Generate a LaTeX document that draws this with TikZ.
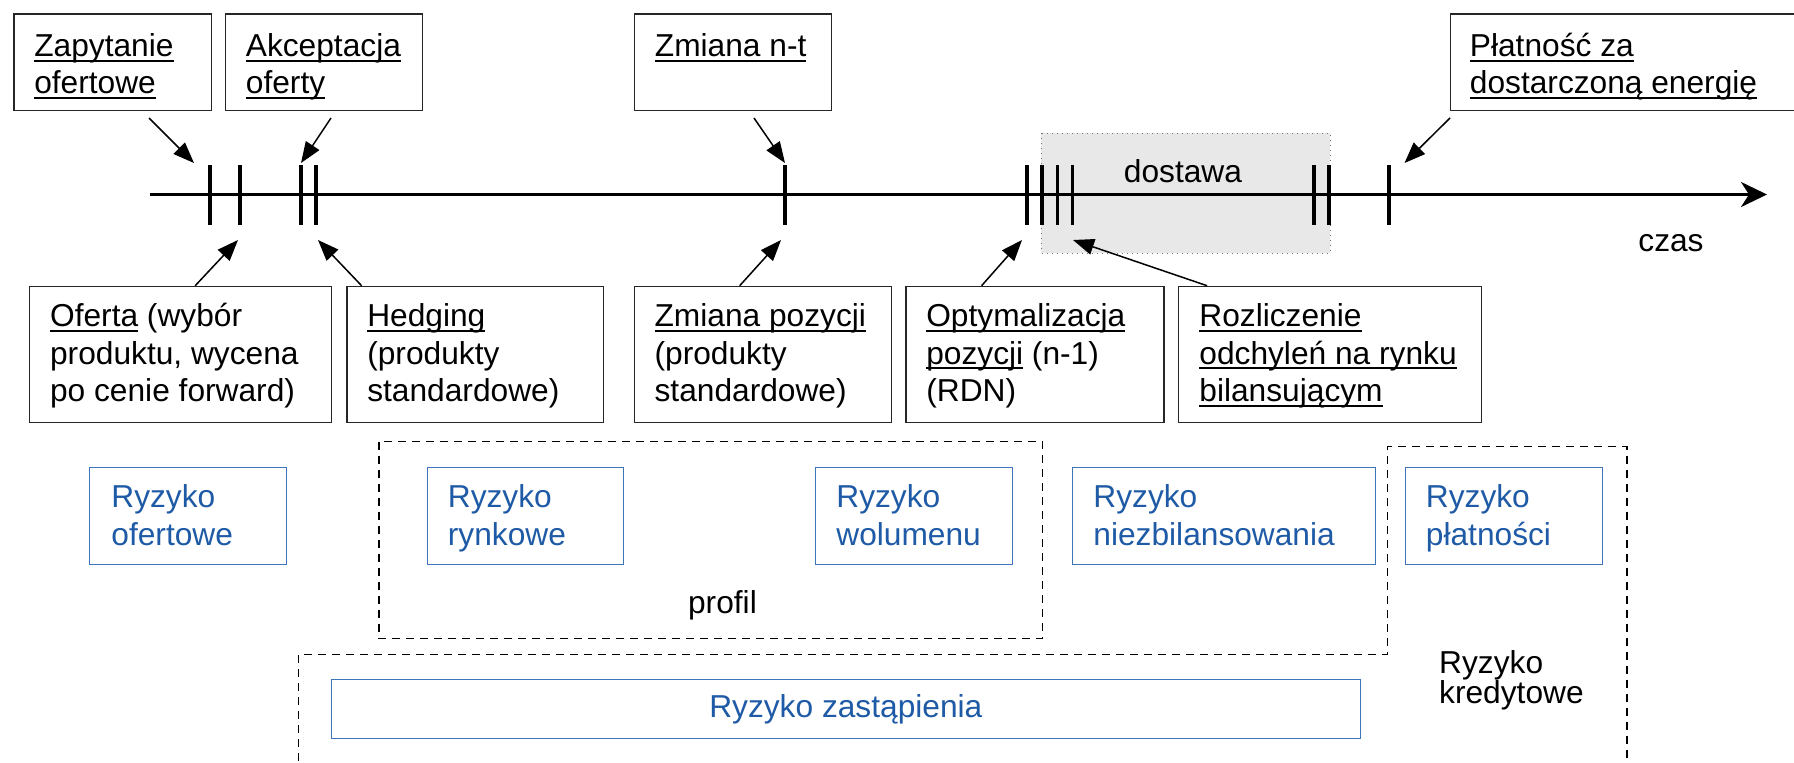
\documentclass[tikz,border=0pt]{standalone}
\usepackage{fontspec}
\setmainfont{Liberation Sans}
\usetikzlibrary{arrows.meta,calc}
\definecolor{rblue}{RGB}{30,90,165}
\definecolor{rblueline}{RGB}{60,115,185}
\newcommand\myul[1]{\setbox0\hbox{#1}\rlap{\rule[-2.6pt]{\wd0}{0.95pt}}\box0\relax}
\newcommand\mlines[1]{\vtop{\halign{##\hfil\cr#1\crcr}}}
\tikzset{
  evbox/.style={draw=black!85, line width=0.6pt, inner sep=0pt, anchor=north west, minimum height=#1},
  evbox/.default=48.35pt,
  rbox/.style={draw=rblueline, line width=0.6pt, inner sep=0pt, anchor=north west, minimum height=48.65pt},
  txt/.style={inner sep=0pt, anchor=base west, font=\fontsize{15.85}{18.7}\selectfont},
  btxt/.style={txt, text=rblue},
  conn/.style={line width=0.75pt, -{Triangle[length=10.5pt,width=8pt]}},
  tickmark/.style={line width=1.65pt},
  dashedbox/.style={line width=0.75pt, dash pattern=on 4pt off 3pt},
}
\begin{document}
\begin{tikzpicture}[x=0.5pt,y=-0.5pt]
\useasboundingbox (0,0) rectangle (1794,762);

% delivery period
\draw[fill=black!9, draw=black!55, line width=0.5pt, dotted] (1041.3,133.3) rectangle (1330,253);
\node[txt] (dost) at (1123.5,182) {dostawa};

% time axis
\coordinate (axL) at (150,194.5);
\coordinate (axR) at (1767,194.5);
\draw[line width=1.5pt, -{Stealth[length=13pt,width=12.5pt,inset=4pt]}] (axL) -- (axR);
\foreach \t in {210,240,301,316,785,1027,1042,1057.5,1072.6,1314,1329,1389}
  \draw[tickmark] (\t,165) -- (\t,225);
\node[txt] (czas) at (1638,251) {czas};

% top event boxes
\node[evbox, minimum width=98.55pt] (zap) at (13.4,13.3) {};
\node[txt] (zapt) at ($(zap.north west)+(20.5,43)$) {\mlines{\myul{Zapytanie}\cr\myul{ofertowe}}};
\node[evbox, minimum width=98.5pt] (akc) at (225,13.3) {};
\node[txt] (akct) at ($(akc.north west)+(20.5,43)$) {\mlines{\myul{Akceptacja}\cr\myul{oferty}}};
\node[evbox, minimum width=98.3pt] (zmnt) at (634,13.3) {};
\node[txt] (zmntt) at ($(zmnt.north west)+(20.5,43)$) {\myul{Zmiana n-t}};
\node[evbox, minimum width=176pt] (plat) at (1450,13.3) {};
\node[txt] (platt) at ($(plat.north west)+(19.5,43)$) {\mlines{\myul{Płatność za}\cr\myul{dostarczoną energię}}};

% bottom event boxes
\node[evbox=68pt, minimum width=151.15pt] (ofe) at (28.7,285.7) {};
\node[txt] (ofet) at ($(ofe.north west)+(21,41)$) {\mlines{\myul{Oferta} (wybór\cr produktu, wycena\cr po cenie forward)}};
\node[evbox=68pt, minimum width=128.3pt] (hed) at (346.4,285.7) {};
\node[txt] (hedt) at ($(hed.north west)+(20.5,41)$) {\mlines{\myul{Hedging}\cr (produkty\cr standardowe)}};
\node[evbox=68pt, minimum width=128.65pt] (zpoz) at (633.7,285.7) {};
\node[txt] (zpozt) at ($(zpoz.north west)+(20.5,41)$) {\mlines{\myul{Zmiana pozycji}\cr (produkty\cr standardowe)}};
\node[evbox=68pt, minimum width=128.95pt] (opt) at (905.4,285.7) {};
\node[txt] (optt) at ($(opt.north west)+(20.5,41)$) {\mlines{\myul{Optymalizacja}\cr\myul{pozycji} (n-1)\cr (RDN)}};
\node[evbox=68pt, minimum width=151.5pt] (roz) at (1178,285.7) {};
\node[txt] (rozt) at ($(roz.north west)+(21,41)$) {\mlines{\myul{Rozliczenie}\cr\myul{odchyleń na rynku}\cr\myul{bilansującym}}};

% connectors
\coordinate (zapA) at (149,118);   \coordinate (zapB) at (194,163);
\coordinate (akcA) at (331,118);   \coordinate (akcB) at (301,163);
\coordinate (zmntA) at (754,118);  \coordinate (zmntB) at (785,163);
\coordinate (platA) at (1450,118); \coordinate (platB) at (1404.5,163);
\coordinate (ofeB) at (238,240);
\coordinate (hedB) at (318,240);
\coordinate (zpozB) at (781,240);
\coordinate (optB) at (1022,240);
\coordinate (rozB) at (1073,240);
\draw[conn] (zapA) -- (zapB);
\draw[conn] (akcA) -- (akcB);
\draw[conn] (zmntA) -- (zmntB);
\draw[conn] (platA) -- (platB);
\draw[conn] ($(ofe.north west)+(166.5,0)$) -- (ofeB);
\draw[conn] ($(hed.north west)+(15.2,0)$) -- (hedB);
\draw[conn] ($(zpoz.north west)+(106,0)$) -- (zpozB);
\draw[conn] ($(opt.north west)+(76.2,0)$) -- (optB);
\draw[conn] ($(roz.north west)+(29,0)$) -- (rozB);

% risk groupings
\draw[dashedbox] (379,441.7) rectangle (1042.7,638.3);
\node[txt] (profil) at (687.7,613) {profil};
\draw[dashedbox] (298.5,775) -- (298.5,654.3) -- (1387.5,654.3) -- (1387.5,446.7) -- (1627,446.7) -- (1627,775);
\node[txt, font=\fontsize{15.85}{15.3}\selectfont] (kred) at (1438.8,673) {\mlines{Ryzyko\cr kredytowe}};

% risk boxes
\node[rbox, minimum width=98.35pt] (rofe) at (89,466.7) {};
\node[btxt] (rofet) at ($(rofe.north west)+(22,41)$) {\mlines{Ryzyko\cr ofertowe}};
\node[rbox, minimum width=98.15pt] (rryn) at (426.5,466.7) {};
\node[btxt] (rrynt) at ($(rryn.north west)+(21,41)$) {\mlines{Ryzyko\cr rynkowe}};
\node[rbox, minimum width=98.25pt] (rwol) at (815,466.7) {};
\node[btxt] (rwolt) at ($(rwol.north west)+(21,41)$) {\mlines{Ryzyko\cr wolumenu}};
\node[rbox, minimum width=151.35pt] (rnie) at (1072,466.7) {};
\node[btxt] (rniet) at ($(rnie.north west)+(21,41)$) {\mlines{Ryzyko\cr niezbilansowania}};
\node[rbox, minimum width=98.5pt] (rpla) at (1404.5,466.7) {};
\node[btxt] (rplat) at ($(rpla.north west)+(21,41)$) {\mlines{Ryzyko\cr płatności}};
\node[rbox, minimum width=514.25pt, minimum height=29.5pt, text=rblue, font=\fontsize{15.85}{18.7}\selectfont] (rzas) at (331,679) {Ryzyko zastąpienia};
\end{tikzpicture}
\end{document}
